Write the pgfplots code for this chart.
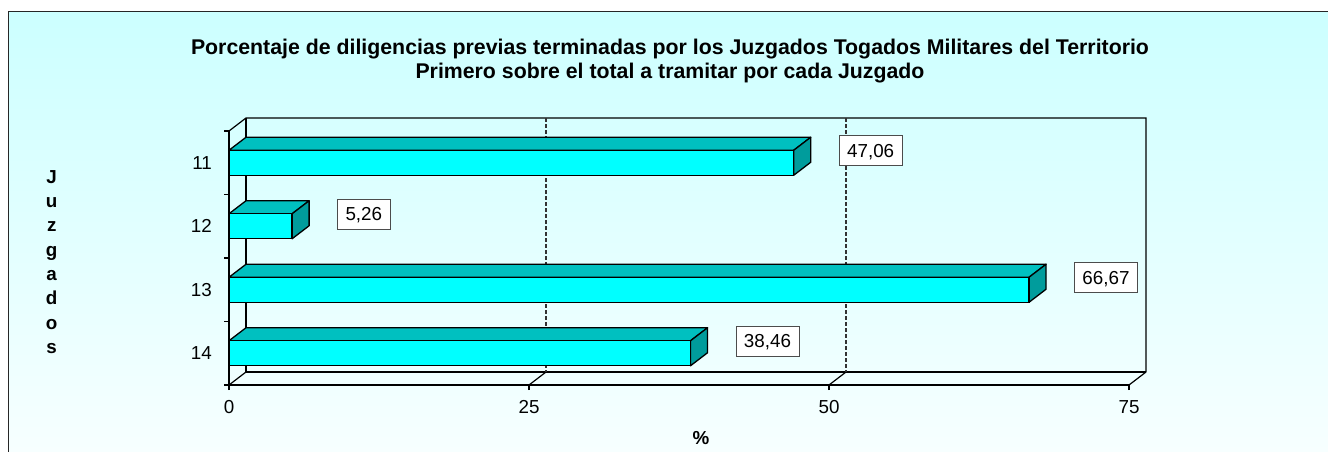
\documentclass[border=0pt]{standalone}
\usepackage{pgfplots}
\pgfplotsset{compat=1.18}
\usepackage{pgfplotstable}
\usepackage{fontspec}
\setmainfont{Liberation Sans}

\definecolor{bgtop}{HTML}{CCFFFF}
\definecolor{bgbot}{HTML}{F7FFFF}
\definecolor{barfront}{HTML}{00FFFF}
\definecolor{bartop}{HTML}{00C0C0}
\definecolor{barside}{HTML}{009C9C}

\pgfplotstableread{
y v
1 47.06
2 5.26
3 66.67
4 38.46
}\datatable

\newcommand\ddx{1.4167}
\newcommand\ddy{0.2047}
\newcommand\hbw{0.19685}

\pgfplotsset{/pgf/number format/assume math mode=true}

\begin{document}
\begin{tikzpicture}[x=1pt,y=1pt]
\useasboundingbox (0,0) rectangle (1328,452);
\shade[top color=bgtop, bottom color=bgbot] (8.3,0) rectangle (1328,440.3);
\draw[line width=1pt, black!85] (8.3,0) -- (8.3,440.3) -- (1328,440.3);
\node[font=\bfseries\fontsize{21.3}{23.3}\selectfont, anchor=base] at (670,397) {Porcentaje de diligencias previas terminadas por los Juzgados Togados Militares del Territorio};
\node[font=\bfseries\fontsize{21.3}{23.3}\selectfont, anchor=base] at (670,373.7) {Primero sobre el total a tramitar por cada Juzgado};
\foreach \c [count=\i from 0] in {J,u,z,g,a,d,o,s}
  \node[font=\bfseries\fontsize{18.8}{22}\selectfont, anchor=base] at (51.7, {268.7-24.3*\i}) {\c};
\node[font=\bfseries\fontsize{18.8}{22}\selectfont, anchor=base] at (701,7.3) {\%};

\begin{axis}[
  at={(229pt,67pt)}, anchor=south west,
  scale only axis, width=900pt, height=254pt,
  xmin=0, xmax=75, ymin=0.5, ymax=4.5, y dir=reverse,
  clip=false,
  axis x line*=bottom, axis y line*=left,
  axis line style={-, line width=1.6pt},
  xtick={0,25,50,75},
  ytick={0.5,1.5,2.5,3.5,4.5}, yticklabels={},
  extra y ticks={1,2,3,4}, extra y tick labels={11,12,13,14},
  extra y tick style={major tick length=0pt},
  tick align=outside, major tick length=5pt,
  tick style={black, line width=1.6pt},
  tick label style={font=\fontsize{18.8}{22}\selectfont},
  xticklabel style={anchor=north, inner sep=0pt, text height=13.3pt, text depth=0pt, yshift=-10pt},
  yticklabel style={anchor=east, inner sep=0pt, xshift=-17pt},
  topface/.style={fill=bartop, draw=black, line width=1.3pt, line join=round},
  sideface/.style={fill=barside, draw=black, line width=1.3pt, line join=round},
]
% back plane
\draw[line width=1.2pt] (axis cs:0,0.5) -- (axis cs:1.4167,0.2953) -- (axis cs:76.4167,0.2953) -- (axis cs:76.4167,4.2953);
\draw[line width=1.2pt] (axis cs:1.4167,0.2953) -- (axis cs:1.4167,4.2953) -- (axis cs:76.4167,4.2953);
\draw[line width=1.2pt] (axis cs:0,4.5) -- (axis cs:1.4167,4.2953);
\draw[line width=1.2pt] (axis cs:25,4.5) -- (axis cs:26.4167,4.2953);
\draw[line width=1.2pt] (axis cs:50,4.5) -- (axis cs:51.4167,4.2953);
\draw[line width=1.2pt] (axis cs:75,4.5) -- (axis cs:76.4167,4.2953);
\draw[line width=1.2pt, black!80, dash pattern=on 3.5pt off 2.5pt] (axis cs:26.4167,0.2953) -- (axis cs:26.4167,4.2953);
\draw[line width=1.2pt, black!80, dash pattern=on 3.5pt off 2.5pt] (axis cs:51.4167,0.2953) -- (axis cs:51.4167,4.2953);

% 3D faces of the bars, from the table
\pgfplotsinvokeforeach{0,...,3}{
  \pgfplotstablegetelem{#1}{v}\of\datatable
  \let\val\pgfplotsretval
  \pgfplotstablegetelem{#1}{y}\of\datatable
  \let\yy\pgfplotsretval
  \pgfmathsetmacro\ytop{\yy-\hbw}
  \pgfmathsetmacro\yback{\ytop-\ddy}
  \pgfmathsetmacro\ybot{\yy+\hbw}
  \pgfmathsetmacro\ybotb{\ybot-\ddy}
  \pgfmathsetmacro\xe{\val+\ddx}
  \edef\temp{\noexpand\addplot[topface] coordinates {(0,\ytop) (\val,\ytop) (\xe,\yback) (\ddx,\yback)} -- cycle;
    \noexpand\addplot[sideface] coordinates {(\val,\ytop) (\xe,\yback) (\xe,\ybotb) (\val,\ybot)} -- cycle;}
  \temp
}

\addplot[xbar, bar width=25pt, fill=barfront, draw=black, line width=1.3pt,
  point meta=x,
  nodes near coords={\pgfmathprintnumber[fixed,fixed zerofill,precision=2,use comma]{\pgfplotspointmeta}},
  every node near coord/.append style={font=\fontsize{18.8}{22}\selectfont, fill=white, draw=black!70, line width=0.8pt,
    inner xsep=8pt, inner ysep=8.35pt, text height=13.3pt, text depth=0pt, anchor=west, xshift=45pt, yshift=12pt}
] table[x=v, y=y] {\datatable};
\end{axis}
\end{tikzpicture}
\end{document}
